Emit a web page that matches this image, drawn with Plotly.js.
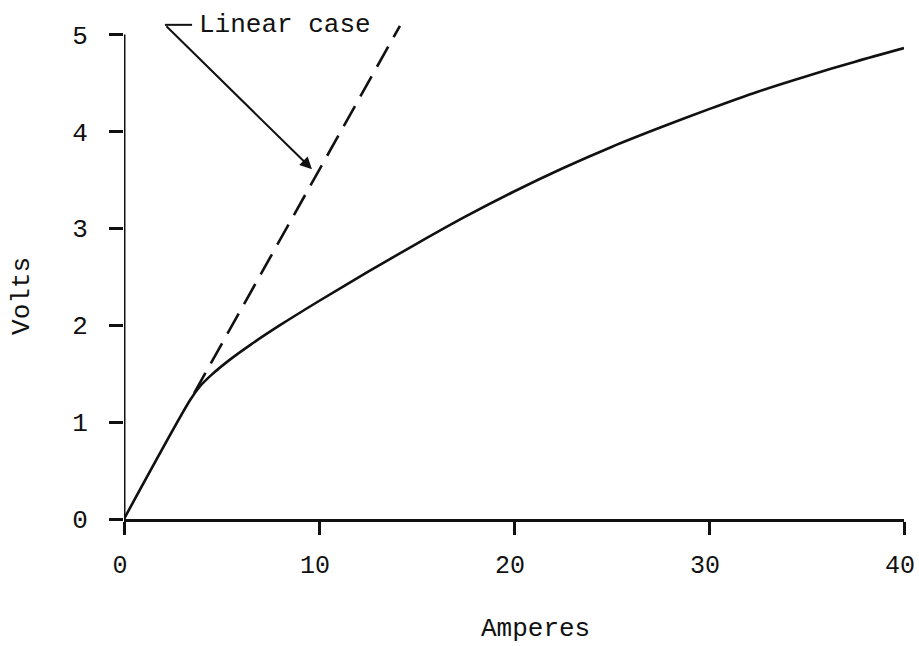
<!DOCTYPE html>
<html>
<head>
<meta charset="utf-8">
<script src="https://cdn.plot.ly/plotly-3.0.1.min.js"></script>
<style>
  html, body { margin: 0; padding: 0; background: #fff; }
  #chart { width: 919px; height: 646px; }
</style>
</head>
<body>
<div id="chart"></div>
<script>
// Measured volt-ampere characteristic
const amperes = [0, 3.4, 3.9, 4.5, 5.4, 6.5, 8, 10, 12.5, 15, 17.5, 20, 22.5, 25, 27.5, 30, 32.5, 35, 37.5, 40];
const volts   = [0, 1.23, 1.37, 1.49, 1.64, 1.80, 2.00, 2.25, 2.55, 2.84, 3.12, 3.38, 3.62, 3.84, 4.04, 4.23, 4.41, 4.57, 4.72, 4.86];

// Linear case (extension of the initial slope)
const linearAmperes = [3.6, 14.15];
const linearVolts   = [1.30, 5.09];

// Axis ticks
const xTicks = [0, 10, 20, 30, 40];
const yTicks = [0, 1, 2, 3, 4, 5];

// Label + pointer for the linear case
const labelText = "Linear case";
const labelPos = [3.74, 5.10];
const pointerTail = [2.1, 5.10];
const pointerHead = [9.64, 3.61];
const leaderEnd = 3.49;

const FONT = "Liberation Mono, Courier New, monospace";
const INK = "#111";

const traces = [
  {
    x: amperes, y: volts,
    type: "scatter", mode: "lines",
    line: { color: INK, width: 2.6, shape: "spline", smoothing: 0.8 },
    hoverinfo: "skip", showlegend: false
  },
  {
    x: linearAmperes, y: linearVolts,
    type: "scatter", mode: "lines",
    line: { color: INK, width: 2.6, dash: "23px,11px" },
    hoverinfo: "skip", showlegend: false
  }
];

const layout = {
  width: 919, height: 646,
  margin: { l: 124, r: 15, t: 20, b: 127 },
  paper_bgcolor: "#fff", plot_bgcolor: "#fff",
  font: { family: FONT, color: INK },
  showlegend: false,
  xaxis: {
    range: [0, 40],
    tickvals: xTicks, ticktext: xTicks.map(String),
    ticks: "outside", ticklen: 13, tickwidth: 3, tickcolor: INK,
    ticklabelstandoff: 8,
    ticklabelshift: -4,
    ticklabeloverflow: "allow",
    tickfont: { family: FONT, size: 25, color: INK },
    showline: true, linecolor: INK, linewidth: 3,
    showgrid: false, zeroline: false
  },
  yaxis: {
    range: [0, 5.15],
    tickvals: yTicks, ticktext: yTicks.map(String),
    ticks: "outside", ticklen: 14, tickwidth: 3, tickcolor: INK,
    ticklabelstandoff: 16,
    tickfont: { family: FONT, size: 26, color: INK },
    showline: false,
    showgrid: false, zeroline: false
  },
  shapes: [
    // vertical axis, stopping at the top tick
    { type: "line", xref: "x", yref: "y", x0: 0, x1: 0, y0: 0, y1: yTicks[yTicks.length - 1],
      line: { color: INK, width: 3 } },
    // short leader line in front of the label
    { type: "line", xref: "x", yref: "y", x0: pointerTail[0], x1: leaderEnd, y0: pointerTail[1], y1: pointerTail[1],
      line: { color: INK, width: 2 } }
  ],
  annotations: [
    { text: "Amperes", xref: "paper", yref: "paper", x: 0.527, y: -0.2204,
      xanchor: "center", yanchor: "middle", showarrow: false,
      font: { family: FONT, size: 26, color: INK } },
    { text: "Volts", xref: "paper", yref: "paper", x: -0.1308, y: 0.4469,
      xanchor: "center", yanchor: "middle", textangle: -90, showarrow: false,
      font: { family: FONT, size: 26, color: INK } },
    { text: labelText, xref: "x", yref: "y", x: labelPos[0], y: labelPos[1],
      xanchor: "left", yanchor: "middle", showarrow: false,
      font: { family: FONT, size: 26, color: INK } },
    { text: "", xref: "x", yref: "y", x: pointerHead[0], y: pointerHead[1],
      axref: "x", ayref: "y", ax: pointerTail[0], ay: pointerTail[1],
      showarrow: true, arrowhead: 2, arrowsize: 1.2, arrowwidth: 2, arrowcolor: INK }
  ]
};

Plotly.newPlot("chart", traces, layout, { displayModeBar: false, staticPlot: true });
</script>
</body>
</html>
